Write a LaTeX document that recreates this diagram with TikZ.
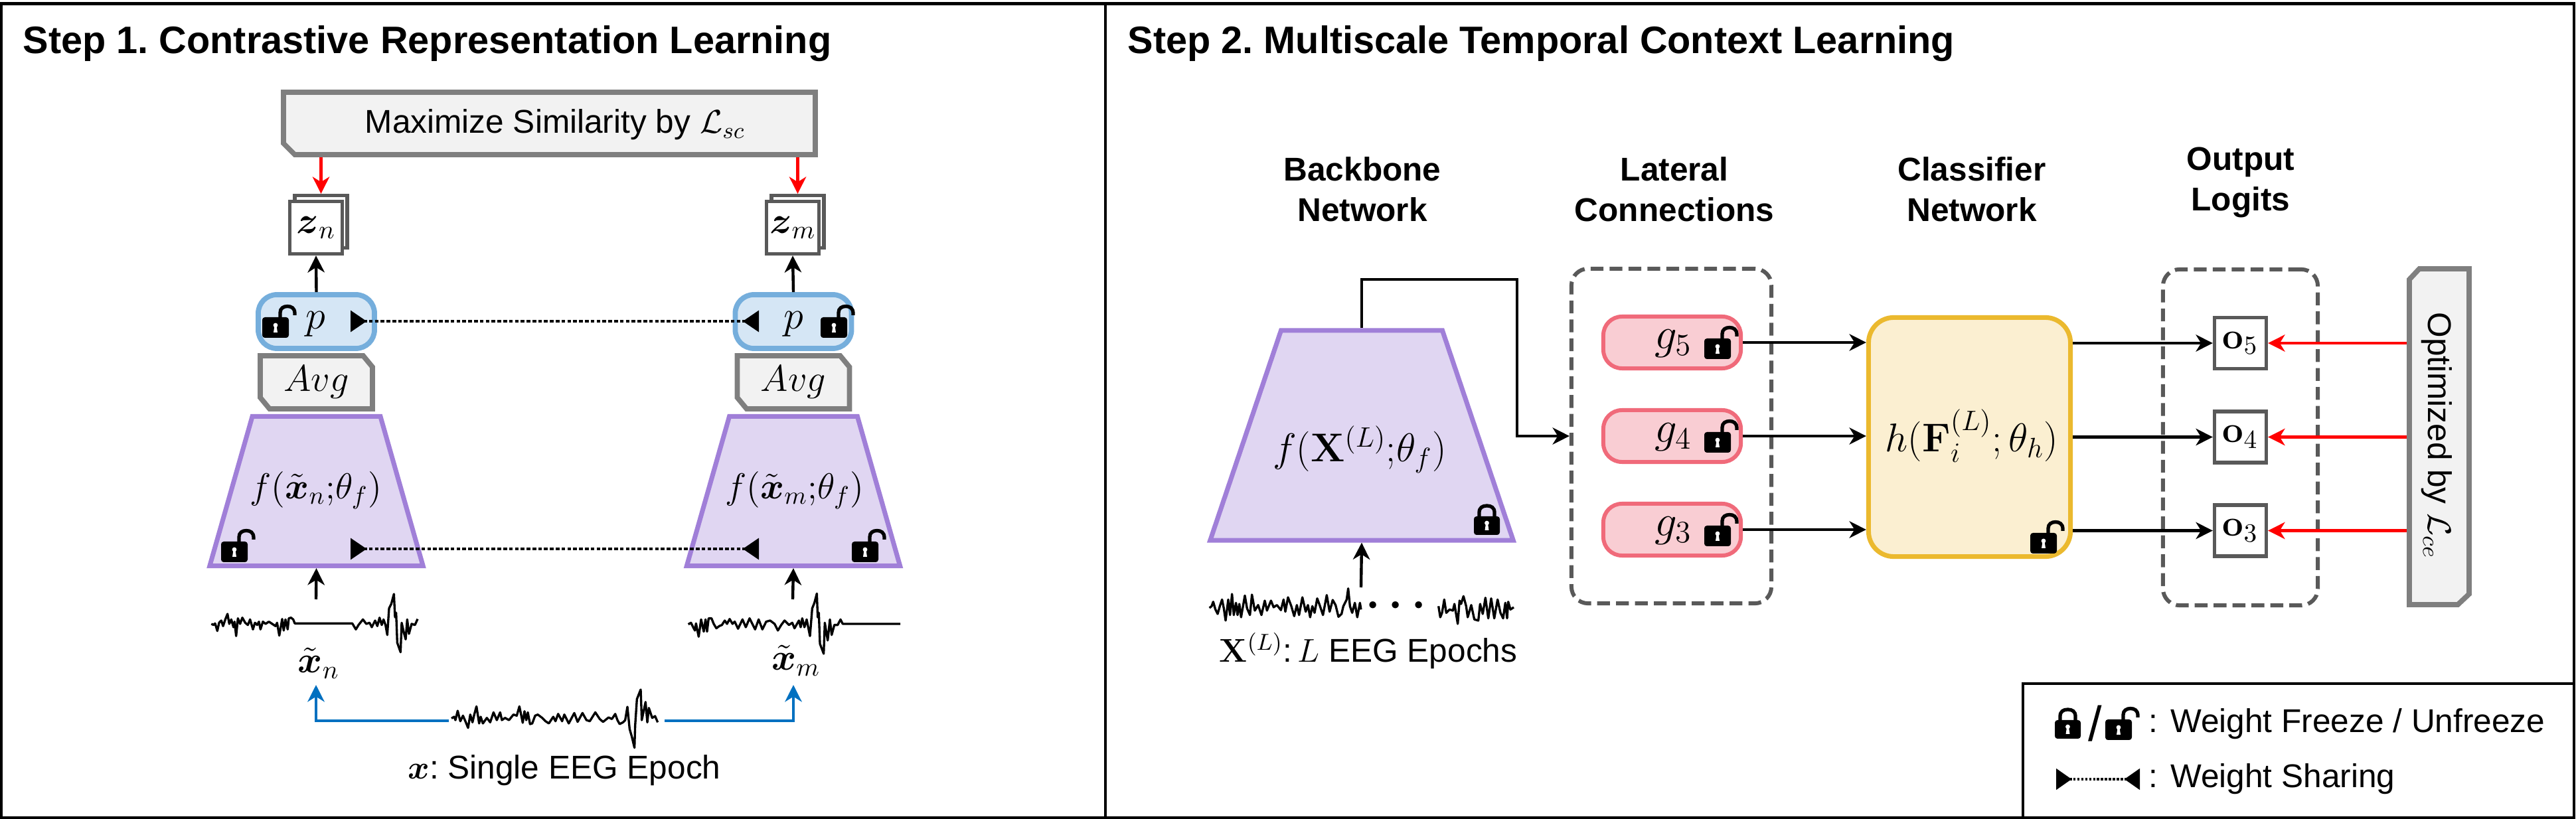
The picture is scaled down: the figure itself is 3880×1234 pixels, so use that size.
\RequirePackage{fix-cm}
\documentclass[tikz,border=0pt]{standalone}
\usepackage{amsmath}
\usepackage[no-math]{fontspec}
\setmainfont{Liberation Sans}
\usetikzlibrary{arrows.meta,shapes.geometric,calc}
\definecolor{gstroke}{HTML}{7F7F7F}
\definecolor{gfill}{HTML}{F2F2F2}
\definecolor{dgray}{HTML}{595959}
\definecolor{pstroke}{HTML}{A07FD8}
\definecolor{pfill}{HTML}{E0D6F2}
\definecolor{bstroke}{HTML}{75AEDC}
\definecolor{bfill}{HTML}{D5E6F5}
\definecolor{rstroke}{HTML}{F06A7A}
\definecolor{rfill}{HTML}{F9CDD3}
\definecolor{ystroke}{HTML}{EBB92E}
\definecolor{yfill}{HTML}{FBEFD1}
\definecolor{linkblue}{HTML}{0070C0}
\newcommand{\bodyf}{\fontsize{14.1}{17.4}\selectfont\frenchspacing}
\newcommand{\boldf}{\fontsize{14.1}{17.4}\selectfont\bfseries\frenchspacing}
\newcommand{\titlef}{\fontsize{16.4}{19}\selectfont\bfseries\frenchspacing}
\newcommand{\mathf}{\fontsize{16}{19}\selectfont}
\newcommand{\mathg}{\fontsize{19}{22}\selectfont}
\newcommand{\mathh}{\fontsize{17.2}{20}\selectfont}
\newcommand{\mathk}{\fontsize{15.5}{19}\selectfont}
\newcommand{\trapstub}{\textcolor{pfill}{\rule{1pt}{1pt}}}
\tikzset{
  tip/.style={-{Stealth[length=7.2pt,width=7.2pt,inset=2.2pt]}},
  conn/.style={tip,line width=1.25pt,draw=black},
  redconn/.style={tip,line width=1.25pt,draw=red},
  blueconn/.style={tip,line width=1.35pt,draw=linkblue},
  share/.style={{Triangle[reversed,length=6.9pt,width=9pt]}-{Triangle[reversed,length=6.9pt,width=9pt]},line width=1.3pt,dash pattern=on 1.6pt off 0.9pt},
  legshare/.style={{Triangle[reversed,length=6.6pt,width=9pt]}-{Triangle[reversed,length=6.6pt,width=9pt]},line width=0.9pt,dash pattern=on 1.1pt off 0.6pt},
  chamfline/.style={draw=gstroke,fill=gfill,line width=2.2pt,line join=miter},
  holder/.style={rectangle,inner sep=0pt,outer sep=0pt},
  rbox/.style={rectangle,rounded corners=0.28cm,inner sep=0pt},
  pbox/.style={rbox,line width=2.2pt,draw=bstroke,fill=bfill,minimum width=1.75cm,minimum height=0.81cm},
  gbox/.style={rbox,line width=1.7pt,draw=rstroke,fill=rfill,minimum width=2.07cm,minimum height=0.78cm},
  hbox/.style={rbox,line width=2pt,draw=ystroke,fill=yfill,rounded corners=0.38cm,minimum width=3.04cm,minimum height=3.60cm},
  obox/.style={rectangle,draw=dgray,fill=white,line width=1.5pt,inner sep=0pt,minimum width=0.78cm,minimum height=0.77cm},
  zbox/.style={rectangle,draw=dgray,fill=white,line width=1.5pt,inner sep=0pt,minimum width=0.79cm,minimum height=0.79cm},
  dashbox/.style={rectangle,draw=dgray,dash pattern=on 5.5pt off 2.6pt,rounded corners=0.25cm,line width=1.7pt,inner sep=0pt},
  trap/.style={trapezium,trapezium stretches=true,draw=pstroke,fill=pfill,line width=2pt,inner sep=0pt},
  frameline/.style={line width=1pt,draw=black},
  sig/.style={line width=0.95pt,draw=black,line join=round},
  mtext/.style={font=\mathf,inner sep=0pt},
  btext/.style={font=\bodyf,inner sep=0pt},
  htext/.style={font=\boldf,align=center,inner sep=0pt},
  ttext/.style={font=\titlef,inner sep=0pt,anchor=base west}
}
% lock icons: #1,#2 = top-left corner in px, #3 = scale
\newcommand{\unlockicon}[3]{%
  \begin{scope}[shift={(#1,#2)},x=#3*0.01cm,y=-#3*0.01cm]
    \fill[black,rounded corners=0.04cm] (0,18) rectangle (40,49);
    \draw[black,line width=1.5pt] (27,20) -- (27,11) .. controls (27,4.5) and (32,1.5) .. (38,1.5) .. controls (44,1.5) and (49,4.5) .. (49,12) -- (49,15);
    \fill[white] (20,30) circle[radius=0.034cm];
    \fill[white] (18.5,31) -- (21.5,31) -- (23,41) -- (17,41) -- cycle;
  \end{scope}}
\newcommand{\lockicon}[3]{%
  \begin{scope}[shift={(#1,#2)},x=#3*0.01cm,y=-#3*0.01cm]
    \fill[black,rounded corners=0.04cm] (0,18) rectangle (39,46);
    \draw[black,line width=1.5pt] (8,20) -- (8,12) .. controls (8,5) and (13,2) .. (19.5,2) .. controls (26,2) and (31,5) .. (31,12) -- (31,20);
    \fill[white] (19.5,28) circle[radius=0.034cm];
    \fill[white] (18,29) -- (21,29) -- (22.5,39) -- (16.5,39) -- cycle;
  \end{scope}}
\begin{document}
\begin{tikzpicture}[x=0.01cm,y=-0.01cm]
\useasboundingbox (0,0) rectangle (3880,1234);
% frames
\fill[white] (0,0) rectangle (3880,1234);
\draw[frameline,line width=1.3pt] (1.5,5.5) rectangle (3877,1232);
\draw[frameline] (1665,5) -- (1665,1232);
\draw[frameline,line width=1.3pt] (3047,1232) -- (3047,1030) -- (3877,1030);
% titles
\node[ttext] (t1) at (34,81) {Step 1. Contrastive Representation Learning};
\node[ttext] (t2) at (1698,81) {Step 2. Multiscale Temporal Context Learning};

% ---------- Step 1 -----------
\draw[chamfline] (427,139) -- (1228,139) -- (1228,233) -- (444,233) -- (427,216) -- cycle;
\node[holder,minimum width=8.09cm,minimum height=1.02cm] (maxb) at (827.5,186) {};
\node[font=\bodyf,inner sep=0pt] (maxt) at (836,188) {Maximize Similarity by $\mathcal{L}_{sc}$};

\node[zbox] (zbn) at (483.5,334) {};
\node[zbox] (zfn) at (476,343) {\mathf$\boldsymbol{z}_n$};
\node[zbox] (zbm) at (1201.5,334) {};
\node[zbox] (zfm) at (1194,343) {\mathf$\boldsymbol{z}_m$};

\node[pbox] (pn) at (476.5,484.5) {};
\node[mtext,font=\mathh] (pnt) at (475,488) {$p$};
\node[pbox] (pm) at (1195,484.5) {};
\node[mtext,font=\mathh] (pmt) at (1195,488) {$p$};

\draw[chamfline] (392,536) -- (547,536) -- (561,553) -- (561,616) -- (406,616) -- (392,599) -- cycle;
\node[holder,minimum width=1.77cm,minimum height=0.88cm] (avgn) at (476.5,576) {\mathf$Avg$};
\draw[chamfline] (1110.5,536) -- (1265.5,536) -- (1279.5,553) -- (1279.5,616) -- (1124.5,616) -- (1110.5,599) -- cycle;
\node[holder,minimum width=1.77cm,minimum height=0.88cm] (avgm) at (1195,576) {\mathf$Avg$};

\node[trap,trapezium left angle=71.6,trapezium right angle=71.6,minimum width=3.21cm,minimum height=2.25cm] (fn) at (476.5,740) {\trapstub};
\node[mtext,font=\mathk] (fnt) at (476,739) {$f(\tilde{\boldsymbol{x}}_n{;}\theta_f)$};
\node[trap,trapezium left angle=71.6,trapezium right angle=71.6,minimum width=3.21cm,minimum height=2.25cm] (fm) at (1195,740) {\trapstub};
\node[mtext,font=\mathk] (fmt) at (1197,739) {$f(\tilde{\boldsymbol{x}}_m{;}\theta_f)$};

\draw[redconn] (zbn.north |- maxb.south) -- (zbn.north);
\draw[redconn] (zbm.north |- maxb.south) -- (zbm.north);
\draw[conn] (pn.north) -- (zfn.south);
\draw[conn] (pm.north) -- (zfm.south);

\unlockicon{395}{460}{1}
\unlockicon{1236}{460}{1}
\unlockicon{333}{798}{1}
\unlockicon{1283}{798}{1}

\coordinate (s1a) at (528,484);
\coordinate (s1b) at (1143,484);
\coordinate (s2a) at (528,827);
\coordinate (s2b) at (1143,827);
\draw[share] (s1a) -- (s1b);
\draw[share] (s2a) -- (s2b);

% EEG signals step 1
\begin{scope}[shift={(310,890)},x=0.01cm/3,y=-0.01cm/3]
\draw[sig] (25,150)--(35,155)--(42,148)--(52,182)--(60,145)--(70,135)--(78,160)--(88,130)--(98,105)--(106,150)--(115,130)--(125,165)--(130,140)--(137,205)--(145,125)--(155,150)--(165,122)--(178,145)--(190,155)--(200,130)--(213,175)--(222,145)--(232,155)--(240,140)--(247,175)--(258,140)--(270,150)--(285,140)--(300,150)--(315,160)--(322,145)--(332,203)--(345,128)--(352,180)--(360,130)--(370,175)--(375,125)--(385,122)--(395,130)--(402,148)--(662,148)--(678,175)--(690,155)--(710,130)--(725,150)--(740,145)--(750,165)--(765,135)--(775,160)--(785,122)--(795,155)--(803,130)--(812,155)--(820,200)--(828,80)--(838,60)--(850,15)--(855,120)--(860,100)--(865,235)--(880,278)--(885,145)--(895,190)--(903,220)--(910,130)--(918,195)--(930,150)--(945,155)--(957,128);
\end{scope}
\begin{scope}[shift={(1030,890)},x=0.01cm/3,y=-0.01cm/3]
\draw[sig] (20,152)--(32,145)--(42,165)--(50,180)--(55,148)--(67,208)--(78,130)--(90,185)--(98,130)--(105,185)--(112,125)--(125,125)--(135,150)--(147,170)--(160,160)--(172,155)--(185,135)--(195,150)--(207,128)--(220,150)--(230,140)--(245,172)--(265,130)--(280,165)--(297,125)--(312,155)--(322,175)--(338,130)--(355,175)--(372,140)--(390,135)--(410,150)--(425,180)--(440,155)--(455,135)--(475,155)--(490,145)--(500,170)--(520,135)--(528,165)--(535,125)--(545,165)--(555,130)--(570,205)--(580,80)--(590,55)--(601,13)--(605,120)--(610,100)--(615,240)--(632,285)--(637,145)--(650,225)--(660,130)--(668,200)--(680,155)--(695,155)--(708,130)--(718,150)--(978,150);
\end{scope}
\begin{scope}[shift={(670,1035)},x=0.01cm/3,y=-0.01cm/3]
\draw[sig] (30,142)--(42,135)--(48,150)--(58,108)--(70,155)--(82,130)--(95,160)--(105,185)--(115,125)--(125,160)--(133,125)--(143,88)--(155,165)--(162,135)--(172,165)--(190,140)--(205,160)--(220,115)--(235,150)--(250,115)--(258,150)--(272,140)--(290,150)--(310,125)--(325,130)--(337,88)--(352,162)--(360,110)--(368,150)--(375,115)--(385,168)--(395,165)--(408,130)--(420,125)--(440,140)--(455,155)--(470,165)--(490,135)--(500,155)--(512,122)--(530,155)--(540,125)--(560,165)--(585,118)--(600,158)--(622,118)--(640,150)--(655,155)--(680,115)--(700,145)--(715,158)--(740,138)--(755,145)--(770,122)--(780,150)--(790,168)--(805,160)--(815,150)--(825,90)--(835,190)--(845,225)--(857,275)--(860,175)--(868,55)--(885,12)--(890,150)--(907,68)--(915,160)--(922,95)--(937,140)--(950,132)--(962,160);
\end{scope}

\coordinate (in1) at (476,903);
\coordinate (in2) at (1194,903);
\draw[conn] (in1) -- (fn.south);
\draw[conn] (in2) -- (fm.south);

\node[mtext] (xn) at (480,999) {$\tilde{\boldsymbol{x}}_n$};
\node[mtext] (xm) at (1199,995) {$\tilde{\boldsymbol{x}}_m$};
\coordinate (bl0) at (676,1086);
\coordinate (br0) at (1001,1086);
\coordinate (bl1) at (476,1032);
\coordinate (br1) at (1195,1032);
\draw[blueconn] (bl0) -| (bl1);
\draw[blueconn] (br0) -| (br1);
\node[btext] (xl) at (850,1161) {$\boldsymbol{x}$: Single EEG Epoch};

% ---------- Step 2 -----------
\node[htext] (h1) at (2052,285) {Backbone\\Network};
\node[htext] (h2) at (2522,285) {Lateral\\Connections};
\node[htext] (h3) at (2970,285) {Classifier\\Network};
\node[htext] (h4) at (3375,275) {Output\\Logits};

\node[trap,trapezium left angle=66.3,trapezium right angle=66.3,minimum width=4.56cm,minimum height=3.16cm] (bb) at (2051,656) {\trapstub};
\node[mtext,font=\mathh] (bbt) at (2048,677) {$f(\mathbf{X}^{(L)}{;}\theta_f)$};
\lockicon{2220}{760}{1}

\node[dashbox,minimum width=3.01cm,minimum height=5.04cm] (lat) at (2517.5,657) {};
\node[dashbox,minimum width=2.33cm,minimum height=5.06cm] (outg) at (3374.5,659) {};

\node[gbox] (g5) at (2518.5,516) {};
\node[gbox] (g4) at (2518.5,657) {};
\node[gbox] (g3) at (2518.5,798) {};
\node[mtext,font=\mathg] (g5t) at (2520,518) {$g_5$};
\node[mtext,font=\mathg] (g4t) at (2520,659) {$g_4$};
\node[mtext,font=\mathg] (g3t) at (2520,800) {$g_3$};
\unlockicon{2567}{492}{1}
\unlockicon{2567}{633}{1}
\unlockicon{2567}{774}{1}

\node[hbox] (hh) at (2966.5,658.5) {};
\node[mtext,font=\mathh] (hht) at (2970,657) {$h(\mathbf{F}_i^{(L)};\theta_h)$};
\unlockicon{3058}{785}{1}

\node[obox] (o5) at (3374.5,517) {\mathf$\mathbf{o}_5$};
\node[obox] (o4) at (3374.5,658.5) {\mathf$\mathbf{o}_4$};
\node[obox] (o3) at (3374.5,799.5) {\mathf$\mathbf{o}_3$};

\draw[chamfline] (3644,405) -- (3719,405) -- (3719,895) -- (3702,911) -- (3629,911) -- (3629,421) -- cycle;
\node[holder,minimum width=0.98cm,minimum height=5.14cm] (opt) at (3674,658) {};
\node[font=\bodyf,rotate=-90,inner sep=0pt] (optt) at (3670,656) {Optimized by $\mathcal{L}_{ce}$};

% connectors step 2
\coordinate (top1) at (2285,421);
\draw[conn] (bb.north) |- (top1) |- (lat.west);
\coordinate (in3) at (2050,885);
\draw[conn] (in3) -- (bb.south);
\foreach \i in {5,4,3}{
  \draw[conn] (g\i.east) -- (hh.west |- g\i.east);
  \draw[conn] (hh.east |- o\i.west) -- (o\i.west);
  \draw[redconn] (opt.west |- o\i.east) -- (o\i.east);
}

% EEG signals step 2
\begin{scope}[shift={(1810,880)},x=0.01cm/3,y=-0.01cm/3]
\draw[sig] (35,108)--(45,100)--(52,80)--(62,115)--(72,135)--(82,100)--(92,70)--(100,110)--(108,165)--(120,70)--(128,140)--(137,45)--(145,140)--(155,85)--(162,140)--(170,90)--(178,150)--(195,52)--(205,110)--(218,140)--(227,48)--(240,120)--(255,95)--(270,140)--(285,75)--(295,120)--(313,75)--(325,105)--(340,95)--(358,118)--(370,70)--(378,125)--(390,60)--(405,100)--(418,145)--(430,95)--(440,140)--(455,60)--(470,125)--(480,95)--(490,150)--(500,100)--(510,130)--(522,65)--(533,95)--(548,140)--(565,50)--(578,125)--(592,72)--(605,95)--(618,148)--(632,135)--(640,100)--(655,70)--(662,20)--(670,100)--(680,130)--(692,85)--(703,150)--(715,85)--(720,115);
\draw[sig] (1070,100)--(1078,150)--(1086,130)--(1096,70)--(1105,130)--(1120,115)--(1135,120)--(1142,90)--(1157,180)--(1165,75)--(1172,90)--(1183,55)--(1195,100)--(1202,150)--(1218,95)--(1232,160)--(1250,165)--(1258,90)--(1270,135)--(1282,62)--(1295,155)--(1308,65)--(1322,155)--(1337,70)--(1350,130)--(1362,155)--(1372,85)--(1380,155)--(1385,80)--(1395,115)--(1410,105);
\end{scope}
\node[mtext,font=\fontsize{19}{22}\selectfont] (dots) at (2109,913) {$\boldsymbol{\cdots}$};
\node[btext] (xcap) at (2061,981) {$\mathbf{X}^{(L)}$:\,$L$ EEG Epochs};

% legend
\lockicon{3095}{1067}{1}
\node[font=\fontsize{21}{21}\selectfont,inner sep=0pt] (slash) at (3156,1090) {/};
\unlockicon{3171}{1066}{1}
\node[btext,anchor=west] (leg1) at (3236,1091) {:\hspace{0.38em}Weight Freeze / Unfreeze};
\coordinate (la) at (3097,1174);
\coordinate (lb) at (3223,1174);
\draw[legshare] (la) -- (lb);
\node[btext,anchor=west] (leg2) at (3236,1174) {:\hspace{0.38em}Weight Sharing};
\end{tikzpicture}
\end{document}
